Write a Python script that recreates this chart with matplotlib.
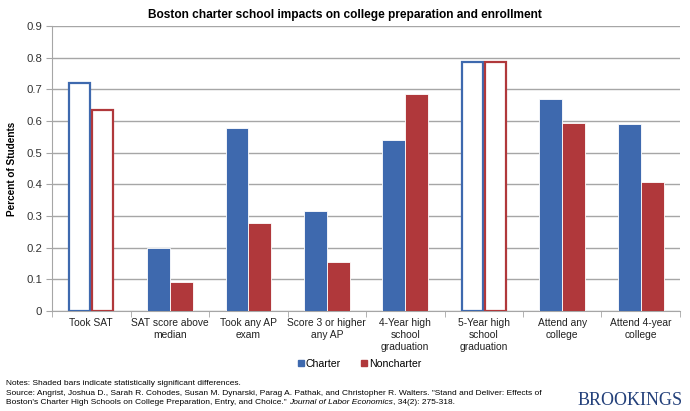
import numpy as np
import matplotlib
matplotlib.use("Agg")
import matplotlib.pyplot as plt
from matplotlib.patches import Patch

categories = ["Took SAT", "SAT score above\nmedian", "Took any AP\nexam",
              "Score 3 or higher\nany AP", "4-Year high\nschool\ngraduation",
              "5-Year high\nschool\ngraduation", "Attend any\ncollege",
              "Attend 4-year\ncollege"]
charter = [0.72, 0.20, 0.577, 0.317, 0.54, 0.785, 0.669, 0.59]
noncharter = [0.635, 0.092, 0.277, 0.155, 0.684, 0.787, 0.595, 0.408]
significant = [False, True, True, True, True, False, True, True]

BLUE = "#3E69AE"
RED = "#B0383B"
GRID = "#A6A6A6"

plt.rcParams["font.family"] = ["Liberation Sans", "DejaVu Sans"]

fig = plt.figure(figsize=(6.9, 4.11), dpi=100)
ax = fig.add_axes([0.0754, 0.2433, 0.9101, 0.6934])

x = np.arange(len(categories))
w = 0.29
for i in range(len(categories)):
    for val, col, off in ((charter[i], BLUE, -w / 2), (noncharter[i], RED, w / 2)):
        if significant[i]:
            ax.bar(x[i] + off, val, w, color=col, edgecolor="white", linewidth=0.6, zorder=3)
        else:
            ax.bar(x[i] + off, val, w * 0.93, color="white", edgecolor=col, linewidth=1.6, zorder=3)

ax.set_xlim(-0.5, len(categories) - 0.5)
ax.set_ylim(0, 0.9)
ax.set_yticks(np.arange(0, 0.91, 0.1))
ax.set_yticklabels(["0"] + [f"{v:.1f}" for v in np.arange(0.1, 0.91, 0.1)],
                   fontsize=8.2, color="#333333")
ax.yaxis.grid(True, color=GRID, linewidth=1)
ax.set_axisbelow(True)

ax.set_xticks(x)
ax.set_xticklabels(categories, fontsize=7.4, linespacing=1.25, color="#222222")
ax.tick_params(axis="x", length=0, pad=5)
ax.set_xticks(np.arange(-0.5, len(categories), 1), minor=True)
ax.tick_params(axis="x", which="minor", length=4, color=GRID)
ax.tick_params(axis="y", length=4, color=GRID, pad=3)

for s in ("top", "right"):
    ax.spines[s].set_visible(False)
for s in ("left", "bottom"):
    ax.spines[s].set_color(GRID)

ax.set_ylabel("Percent of Students", fontsize=7.2, fontweight="bold")
ax.yaxis.set_label_coords(-0.056, 0.5)
fig.text(0.5, 0.963, "Boston charter school impacts on college preparation and enrollment",
         ha="center", va="center", fontsize=8.6, fontweight="bold")

handles = [Patch(color=BLUE, label="Charter"), Patch(color=RED, label="Noncharter")]
fig.legend(handles=handles, loc="center", bbox_to_anchor=(0.521, 0.115), ncol=2,
           frameon=False, fontsize=7.6, handlelength=0.55, handleheight=0.55,
           handletextpad=0.15, columnspacing=2.0)

NOTE_FS = 6.0
fig.text(0.009, 0.066, "Notes: Shaded bars indicate statistically significant differences.",
         fontsize=NOTE_FS, va="center")
fig.text(0.009, 0.042, "Source: Angrist, Joshua D., Sarah R. Cohodes, Susan M. Dynarski, "
         "Parag A. Pathak, and Christopher R. Walters. \"Stand and Deliver: Effects of",
         fontsize=NOTE_FS, va="center")

# third line has an italic journal name in the middle
fig.canvas.draw()
renderer = fig.canvas.get_renderer()
parts = [("Boston's Charter High Schools on College Preparation, Entry, and Choice.\" ", "normal"),
         ("Journal of Labor Economics", "italic"),
         (", 34(2): 275-318.", "normal")]
xpos = 0.009
for txt, style in parts:
    t = fig.text(xpos, 0.02, txt, fontsize=NOTE_FS, va="center", style=style)
    bb = t.get_window_extent(renderer=renderer)
    xpos += bb.width / fig.bbox.width

fig.text(0.99, 0.025, "BROOKINGS", fontsize=13, family=["Liberation Serif", "DejaVu Serif"],
         color="#23407A", ha="right", va="center")

fig.savefig("out.png", dpi=100)
